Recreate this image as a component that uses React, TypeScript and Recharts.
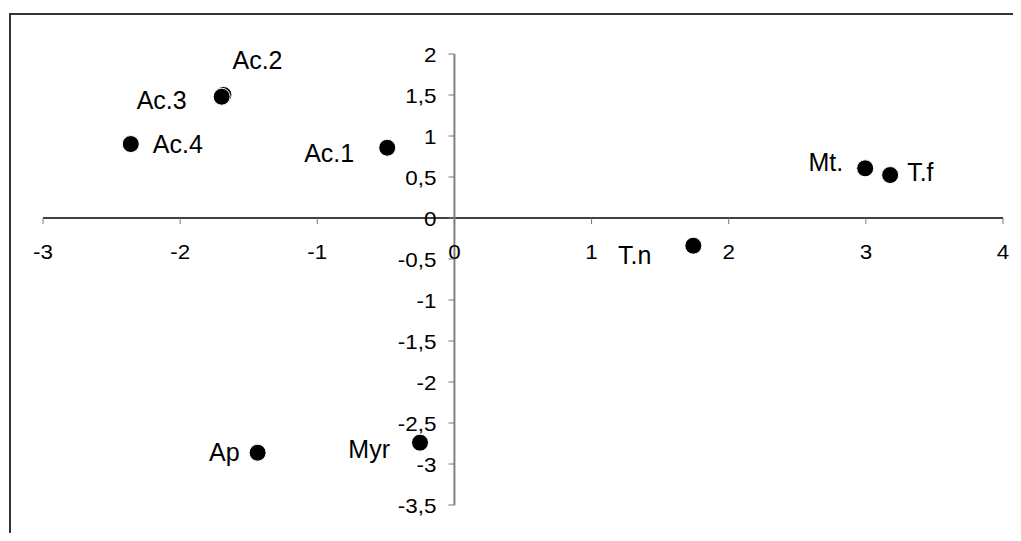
import {ReferenceDot, ReferenceLine, Scatter, ScatterChart, XAxis, YAxis} from "recharts";

const names = ["Ac.1", "Ac.2", "Ac.3", "Ac.4", "Mt.", "T.f", "T.n", "Ap", "Myr"];
const xValues = [-0.49, -1.684, -1.697, -2.36, 2.995, 3.177, 1.742, -1.435, -0.251];
const yValues = [0.857, 1.5, 1.479, 0.902, 0.606, 0.524, -0.338, -2.862, -2.74];

const xTicks = [-3, -2, -1, 0, 1, 2, 3, 4];
const yTicks = [2, 1.5, 1, 0.5, 0, -0.5, -1, -1.5, -2, -2.5, -3, -3.5];

// where each point's name sits relative to its marker
const placement: Record<string, { dx: number; dy: number; anchor: "start" | "end" }> = {
    "Ac.1": {dx: -33, dy: 14, anchor: "end"},
    "Ac.2": {dx: 9, dy: -26, anchor: "start"},
    "Ac.3": {dx: -35, dy: 12, anchor: "end"},
    "Ac.4": {dx: 22, dy: 9, anchor: "start"},
    "Mt.": {dx: -22, dy: 3, anchor: "end"},
    "T.f": {dx: 17, dy: 6, anchor: "start"},
    "T.n": {dx: -42, dy: 18, anchor: "end"},
    "Ap": {dx: -18, dy: 8, anchor: "end"},
    "Myr": {dx: -30, dy: 15, anchor: "end"},
};

const points = names.map((name, i) => ({name, x: xValues[i], y: yValues[i]}));

const FONT = "'Liberation Sans', Arial, sans-serif";
const fmt = (v: number) => String(v).replace(".", ",");

function PointShape(props: any) {
    const {cx, cy, payload} = props;
    const p = placement[payload.name];
    return (
        <g>
            <circle cx={cx} cy={cy} r={8.5} fill="#000" stroke="#fff" strokeWidth={1}/>
            <text x={cx + p.dx} y={cy + p.dy} textAnchor={p.anchor} fontSize={25} fontFamily={FONT} fill="#000">
                {payload.name}
            </text>
        </g>
    );
}

function XTick(props: any) {
    const {cx, cy, label} = props;
    return (
        <g>
            <line x1={cx} y1={cy} x2={cx} y2={cy + 6} stroke="#777" strokeWidth={1}/>
            <text transform={`translate(${cx},${cy + 41}) scale(1.12,1)`} textAnchor="middle" fontSize={20}
                  fontFamily={FONT} fill="#000">{label}</text>
        </g>
    );
}

function YTick(props: any) {
    const {cx, cy, label} = props;
    return (
        <g>
            <line x1={cx - 6} y1={cy} x2={cx} y2={cy} stroke="#777" strokeWidth={1}/>
            <text transform={`translate(${cx - 18},${cy + 7.5}) scale(1.12,1)`} textAnchor="end" fontSize={20}
                  fontFamily={FONT} fill="#000">{label}</text>
        </g>
    );
}

export default function App() {
    return (
        <div style={{position: "relative", margin: -8, width: 1021, height: 541, overflow: "hidden", background: "#fff"}}>
            <div style={{
                position: "absolute", left: 9, top: 13, width: 1030, height: 560,
                borderTop: "2px solid #333", borderLeft: "2px solid #333"
            }}/>
            <div style={{position: "absolute", left: 0, top: 0}}>
                <ScatterChart width={1021} height={541} margin={{top: 54, right: 18, bottom: 36, left: 43}}>
                    <XAxis type="number" dataKey="x" domain={[-3, 4]} hide/>
                    <YAxis type="number" dataKey="y" domain={[-3.5, 2]} hide/>
                    <ReferenceLine y={0} stroke="#000" strokeWidth={1.5}/>
                    <ReferenceLine x={0} stroke="#808080" strokeWidth={2}/>
                    {xTicks.map((t) => (
                        <ReferenceDot key={`xt${t}`} x={t} y={0} r={0}
                                      shape={(p: any) => <XTick {...p} label={fmt(t)}/>}/>
                    ))}
                    {yTicks.map((t) => (
                        <ReferenceDot key={`yt${t}`} x={0} y={t} r={0}
                                      shape={(p: any) => <YTick {...p} label={fmt(t)}/>}/>
                    ))}
                    <Scatter data={points} shape={<PointShape/>} isAnimationActive={false}/>
                </ScatterChart>
            </div>
        </div>
    );
}
